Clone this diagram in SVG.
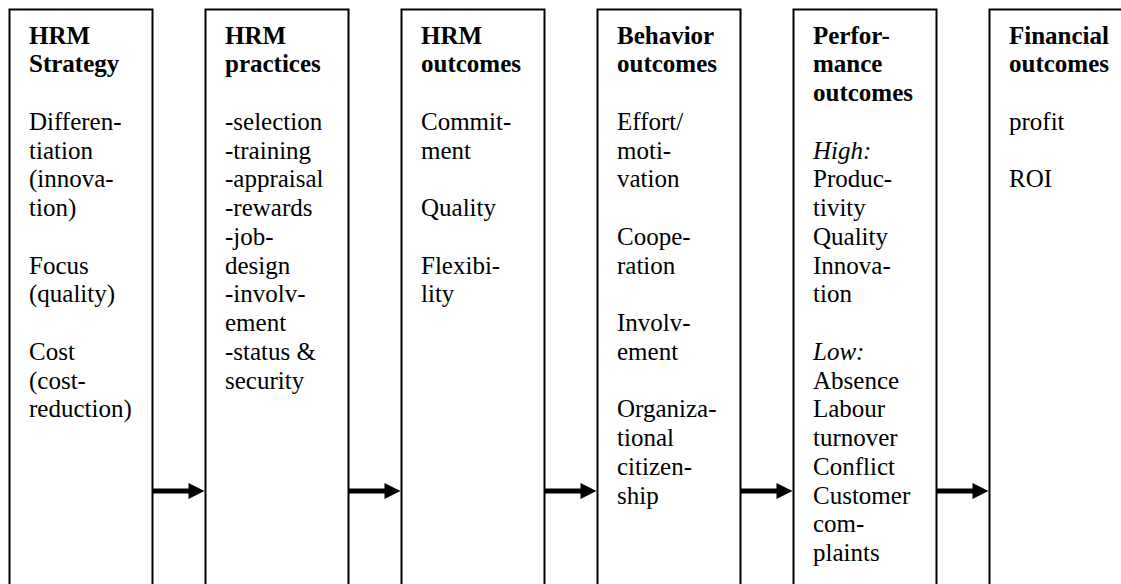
<svg xmlns="http://www.w3.org/2000/svg" width="1121" height="584" viewBox="0 0 1121 584">
<style>
.box{fill:#fff;stroke:#000;stroke-width:2}
text{font-size:25px;fill:#000}
.b{font-weight:bold}
.i{font-style:italic}
.shaft{stroke:#000;stroke-width:5;fill:none}
.head{fill:#000;stroke:none}
</style>
<rect width="1121" height="584" fill="#fff"/>
<g font-family="'Liberation Serif', 'Times New Roman', Tinos, 'DejaVu Serif', serif">
<g id="node-hrm-strategy">
<rect class="box" x="9.5" y="9.5" width="143" height="600"/>
<text x="29" y="43.5"><tspan class="b">HRM</tspan><tspan class="b" x="29" dy="28.75">Strategy</tspan><tspan x="29" dy="57.5">Differen-</tspan><tspan x="29" dy="28.75">tiation</tspan><tspan x="29" dy="28.75">(innova-</tspan><tspan x="29" dy="28.75">tion)</tspan><tspan x="29" dy="57.5">Focus</tspan><tspan x="29" dy="28.75">(quality)</tspan><tspan x="29" dy="57.5">Cost</tspan><tspan x="29" dy="28.75">(cost-</tspan><tspan x="29" dy="28.75">reduction)</tspan></text>
</g>
<g id="node-hrm-practices">
<rect class="box" x="205.5" y="9.5" width="143" height="600"/>
<text x="225" y="43.5"><tspan class="b">HRM</tspan><tspan class="b" x="225" dy="28.75">practices</tspan><tspan x="225" dy="57.5">-selection</tspan><tspan x="225" dy="28.75">-training</tspan><tspan x="225" dy="28.75">-appraisal</tspan><tspan x="225" dy="28.75">-rewards</tspan><tspan x="225" dy="28.75">-job-</tspan><tspan x="225" dy="28.75">design</tspan><tspan x="225" dy="28.75">-involv-</tspan><tspan x="225" dy="28.75">ement</tspan><tspan x="225" dy="28.75">-status &amp;</tspan><tspan x="225" dy="28.75">security</tspan></text>
</g>
<g id="node-hrm-outcomes">
<rect class="box" x="401.5" y="9.5" width="143" height="600"/>
<text x="421" y="43.5"><tspan class="b">HRM</tspan><tspan class="b" x="421" dy="28.75">outcomes</tspan><tspan x="421" dy="57.5">Commit-</tspan><tspan x="421" dy="28.75">ment</tspan><tspan x="421" dy="57.5">Quality</tspan><tspan x="421" dy="57.5">Flexibi-</tspan><tspan x="421" dy="28.75">lity</tspan></text>
</g>
<g id="node-behavior-outcomes">
<rect class="box" x="597.5" y="9.5" width="143" height="600"/>
<text x="617" y="43.5"><tspan class="b">Behavior</tspan><tspan class="b" x="617" dy="28.75">outcomes</tspan><tspan x="617" dy="57.5">Effort/</tspan><tspan x="617" dy="28.75">moti-</tspan><tspan x="617" dy="28.75">vation</tspan><tspan x="617" dy="57.5">Coope-</tspan><tspan x="617" dy="28.75">ration</tspan><tspan x="617" dy="57.5">Involv-</tspan><tspan x="617" dy="28.75">ement</tspan><tspan x="617" dy="57.5">Organiza-</tspan><tspan x="617" dy="28.75">tional</tspan><tspan x="617" dy="28.75">citizen-</tspan><tspan x="617" dy="28.75">ship</tspan></text>
</g>
<g id="node-performance-outcomes">
<rect class="box" x="793.5" y="9.5" width="143" height="600"/>
<text x="813" y="43.5"><tspan class="b">Perfor-</tspan><tspan class="b" x="813" dy="28.75">mance</tspan><tspan class="b" x="813" dy="28.75">outcomes</tspan><tspan class="i" x="813" dy="57.5">High:</tspan><tspan x="813" dy="28.75">Produc-</tspan><tspan x="813" dy="28.75">tivity</tspan><tspan x="813" dy="28.75">Quality</tspan><tspan x="813" dy="28.75">Innova-</tspan><tspan x="813" dy="28.75">tion</tspan><tspan class="i" x="813" dy="57.5">Low:</tspan><tspan x="813" dy="28.75">Absence</tspan><tspan x="813" dy="28.75">Labour</tspan><tspan x="813" dy="28.75">turnover</tspan><tspan x="813" dy="28.75">Conflict</tspan><tspan x="813" dy="28.75">Customer</tspan><tspan x="813" dy="28.75">com-</tspan><tspan x="813" dy="28.75">plaints</tspan></text>
</g>
<g id="node-financial-outcomes">
<rect class="box" x="989.5" y="9.5" width="143" height="600"/>
<text x="1009" y="43.5"><tspan class="b">Financial</tspan><tspan class="b" x="1009" dy="28.75">outcomes</tspan><tspan x="1009" dy="57.5">profit</tspan><tspan x="1009" dy="57.5">ROI</tspan></text>
</g>
</g>
<g id="connectors">
<line class="shaft" x1="153" y1="491" x2="190" y2="491"/>
<polygon class="head" points="188.5,483 204.5,491 188.5,499"/>
<line class="shaft" x1="349" y1="491" x2="386" y2="491"/>
<polygon class="head" points="384.5,483 400.5,491 384.5,499"/>
<line class="shaft" x1="545" y1="491" x2="582" y2="491"/>
<polygon class="head" points="580.5,483 596.5,491 580.5,499"/>
<line class="shaft" x1="741" y1="491" x2="778" y2="491"/>
<polygon class="head" points="776.5,483 792.5,491 776.5,499"/>
<line class="shaft" x1="937" y1="491" x2="974" y2="491"/>
<polygon class="head" points="972.5,483 988.5,491 972.5,499"/>
</g>
</svg>
